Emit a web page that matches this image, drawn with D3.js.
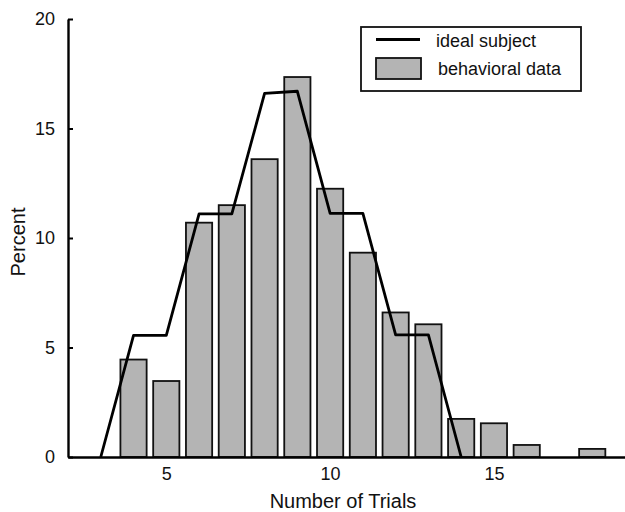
<!DOCTYPE html>
<html lang="en">
<head>
    <meta charset="utf-8">
    <title></title>
    <script src="https://d3js.org/d3.v7.min.js"></script>
    <style type="text/css">
        body{
            margin: 0;
            background: #fff;
        }
        .tick text{
            font-family: "Liberation Sans", Arial, sans-serif;
            font-size: 18px;
            fill: #111;
        }
        .title{
            font-family: "Liberation Sans", Arial, sans-serif;
            font-size: 20px;
            fill: #111;
        }
        .legend{
            font-family: "Liberation Sans", Arial, sans-serif;
            font-size: 18px;
            fill: #111;
        }
    </style>
</head>
<body>
    <div id="frame"></div>
    <script type="text/javascript">

        // behavioral data (bars)
        const trials = [4, 5, 6, 7, 8, 9, 10, 11, 12, 13, 14, 15, 16, 18];
        const percent = [4.45, 3.47, 10.7, 11.5, 13.6, 17.35, 12.25, 9.33, 6.6, 6.06, 1.74, 1.54, 0.55, 0.37];

        // ideal subject (line)
        const idealX = [3, 4, 5, 6, 7, 8, 9, 10, 11, 12, 13, 14];
        const idealY = [0, 5.55, 5.55, 11.1, 11.1, 16.6, 16.7, 11.12, 11.12, 5.58, 5.58, 0];

        const xTicks = [5, 10, 15];
        const yTicks = [0, 5, 10, 15, 20];

        const w = 625, h = 512;

        const svg = d3.select("#frame").append("svg")
            .attr("width", w)
            .attr("height", h);

        const x = d3.scaleLinear().domain([2, 19]).range([68, 625]);
        const y = d3.scaleLinear().domain([0, 20]).range([457, 19]);

        const step = x(1) - x(0);
        const barW = step * 0.8;

        // bars
        svg.selectAll("rect.bar")
            .data(trials)
            .enter()
            .append("rect")
            .attr("class", "bar")
            .attr("x", d => x(d) - barW / 2)
            .attr("width", barW)
            .attr("y", (d, i) => y(percent[i]))
            .attr("height", (d, i) => y(0) - y(percent[i]))
            .attr("fill", "#b4b4b4")
            .attr("stroke", "#111")
            .attr("stroke-width", 1.8);

        // ideal subject line
        const line = d3.line()
            .x(d => x(d[0]))
            .y(d => y(d[1]));

        svg.append("path")
            .datum(idealX.map((d, i) => [d, idealY[i]]))
            .attr("d", line)
            .attr("fill", "none")
            .attr("stroke", "#000")
            .attr("stroke-width", 2.8)
            .attr("stroke-linejoin", "round");

        // axes
        const xAxis = svg.append("g")
            .attr("transform", "translate(0," + y(0) + ")")
            .call(d3.axisBottom(x).tickValues(xTicks).tickSize(0).tickPadding(9).tickSizeOuter(0));
        xAxis.select(".domain").attr("stroke", "#000").attr("stroke-width", 2.4);
        xAxis.selectAll(".tick text").attr("dy", "0.8em");

        const yAxis = svg.append("g")
            .attr("transform", "translate(" + x(2) + ",0)")
            .call(d3.axisLeft(y).tickValues(yTicks).tickSizeInner(-5).tickSizeOuter(0).tickPadding(13));
        yAxis.select(".domain").attr("stroke", "#000").attr("stroke-width", 2.4);
        yAxis.selectAll(".tick line").attr("stroke", "#000").attr("stroke-width", 2);

        // axis titles
        svg.append("text")
            .attr("class", "title")
            .attr("x", 343)
            .attr("y", 508)
            .attr("text-anchor", "middle")
            .text("Number of Trials");

        svg.append("text")
            .attr("class", "title")
            .attr("transform", "translate(25,242) rotate(-90)")
            .attr("text-anchor", "middle")
            .text("Percent");

        // legend
        const lg = svg.append("g");
        lg.append("rect")
            .attr("x", 361).attr("y", 27)
            .attr("width", 220).attr("height", 64)
            .attr("fill", "#fff")
            .attr("stroke", "#111")
            .attr("stroke-width", 1.8);
        lg.append("line")
            .attr("x1", 376).attr("x2", 420)
            .attr("y1", 39.5).attr("y2", 39.5)
            .attr("stroke", "#000")
            .attr("stroke-width", 2.8);
        lg.append("text")
            .attr("class", "legend")
            .attr("x", 436).attr("y", 47)
            .text("ideal subject");
        lg.append("rect")
            .attr("x", 376).attr("y", 58)
            .attr("width", 45).attr("height", 21)
            .attr("fill", "#b4b4b4")
            .attr("stroke", "#111")
            .attr("stroke-width", 1.8);
        lg.append("text")
            .attr("class", "legend")
            .attr("x", 438).attr("y", 75)
            .text("behavioral data");

    </script>
</body>
</html>
